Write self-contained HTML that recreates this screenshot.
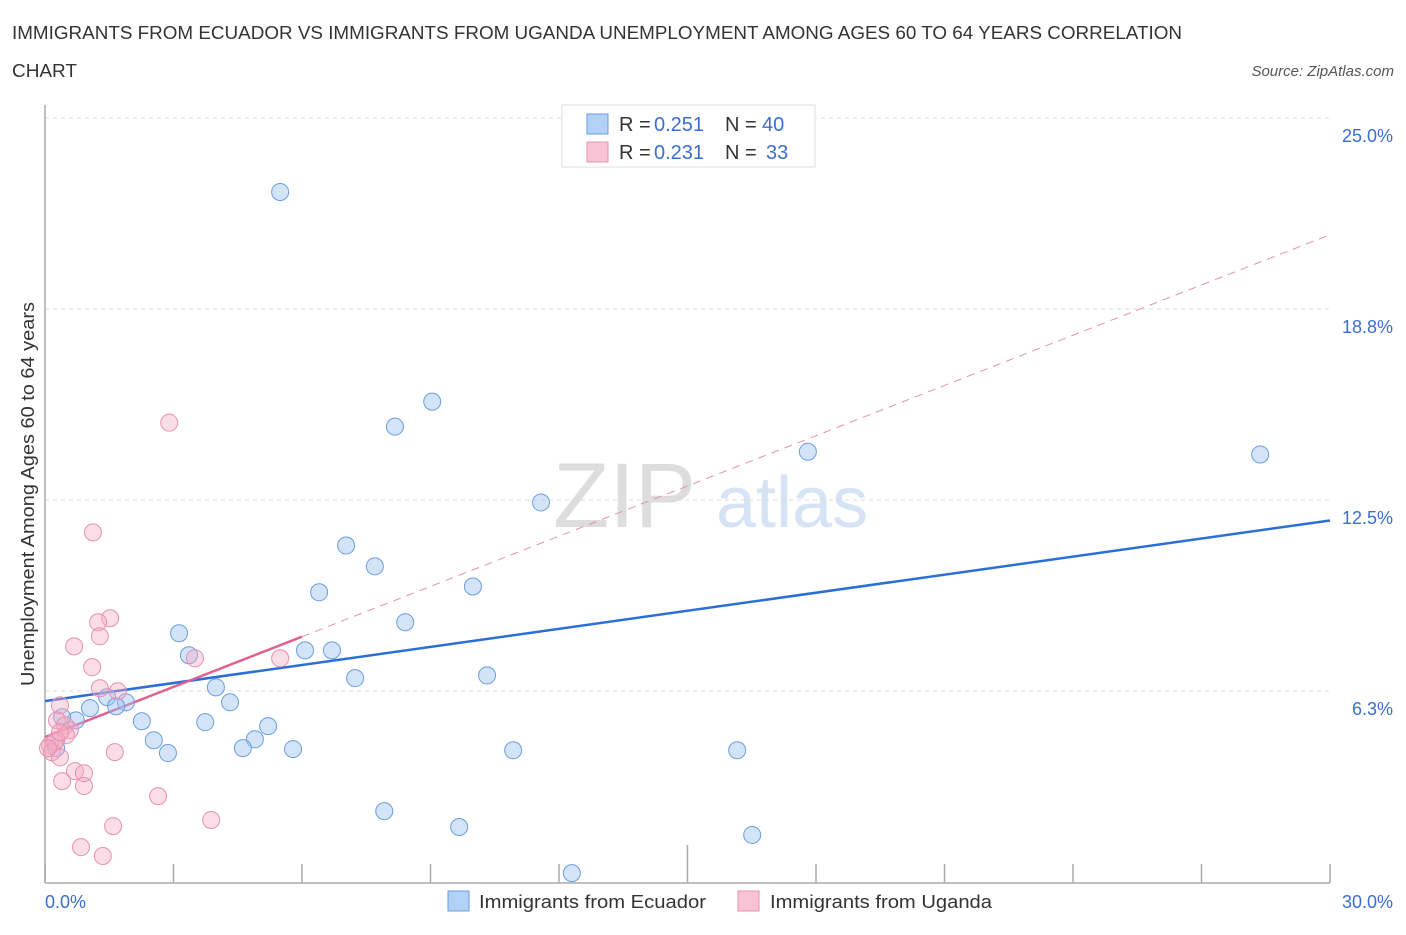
<!DOCTYPE html>
<html><head><meta charset="utf-8"><style>
body{margin:0;background:#fff;font-family:"Liberation Sans",sans-serif;}
svg text{font-family:"Liberation Sans",sans-serif;}
</style></head><body>
<svg id="chart" width="1406" height="930" xmlns="http://www.w3.org/2000/svg">
<text x="12" y="39" font-size="18" fill="#333" textLength="1170" lengthAdjust="spacingAndGlyphs">IMMIGRANTS FROM ECUADOR VS IMMIGRANTS FROM UGANDA UNEMPLOYMENT AMONG AGES 60 TO 64 YEARS CORRELATION</text>
<text x="12" y="77" font-size="18" fill="#333" textLength="65" lengthAdjust="spacingAndGlyphs">CHART</text>
<text x="1394" y="76" font-size="15" fill="#555" text-anchor="end" font-style="italic">Source: ZipAtlas.com</text>
<text x="553" y="527" font-size="92" fill="#ddd" font-family="Liberation Serif">ZIP</text>
<text x="716" y="527" font-size="72" fill="#d5e3f5">atlas</text>
<g id="grid"></g>
<g id="axes"></g>
<g id="lines"></g>
<g id="pts"></g>
<text transform="translate(34,494) rotate(-90)" font-size="18" fill="#333" text-anchor="middle" textLength="384" lengthAdjust="spacingAndGlyphs">Unemployment Among Ages 60 to 64 years</text>
<text x="45" y="908" font-size="18" fill="#3a6fd0">0.0%</text>
<text x="1393" y="908" font-size="18" fill="#3a6fd0" text-anchor="end">30.0%</text>
<g>
<rect x="562" y="105" width="253" height="62" fill="#fff" stroke="#ddd"/>
<rect x="587" y="114" width="21" height="20" fill="#b3d0f5" stroke="#6a9de0"/>
<rect x="587" y="142" width="21" height="20" fill="#f8c3d4" stroke="#e890b0"/>
<text x="619" y="131" font-size="20" fill="#333">R = </text>
<text x="654" y="131" font-size="20" fill="#3a6fd0">0.251</text>
<text x="725" y="131" font-size="20" fill="#333">N = </text>
<text x="762" y="131" font-size="20" fill="#3a6fd0">40</text>
<text x="619" y="159" font-size="20" fill="#333">R = </text>
<text x="654" y="159" font-size="20" fill="#3a6fd0">0.231</text>
<text x="725" y="159" font-size="20" fill="#333">N = </text>
<text x="766" y="159" font-size="20" fill="#3a6fd0">33</text>
</g>
<g>
<rect x="448" y="891" width="21" height="20" fill="#b3d0f5" stroke="#6a9de0"/>
<text x="479" y="908" font-size="18" fill="#333" textLength="227" lengthAdjust="spacingAndGlyphs">Immigrants from Ecuador</text>
<rect x="738" y="891" width="21" height="20" fill="#f8c3d4" stroke="#e890b0"/>
<text x="770" y="908" font-size="18" fill="#333" textLength="222" lengthAdjust="spacingAndGlyphs">Immigrants from Uganda</text>
</g>
</svg>
<script>
const yTicks=[6.25,12.5,18.75,25];
const yTickLabels=["6.3%","12.5%","18.8%","25.0%"];
const xTicks=[0,3,6,9,12,15,18,21,24,27,30];
const ecuadorX=[5.49,9.04,8.17,17.81,28.37,11.58,7.03,7.70,9.99,6.40,8.41,3.13,6.07,6.70,3.36,7.24,10.32,3.99,4.32,1.45,1.89,1.05,1.66,0.72,0.40,2.26,3.74,5.21,2.54,4.90,4.62,2.87,5.79,10.93,16.16,0.26,7.92,9.67,16.51,12.30];
const ecuadorY=[22.58,15.72,14.90,14.08,13.99,12.42,11.01,10.33,9.67,9.48,8.50,8.14,7.58,7.58,7.42,6.67,6.76,6.37,5.88,6.05,5.88,5.69,5.75,5.29,5.39,5.26,5.23,5.10,4.64,4.67,4.38,4.22,4.35,4.31,4.31,4.38,2.32,1.80,1.54,0.29];
const ugandaX=[2.90,1.12,1.52,1.24,1.28,0.68,3.50,5.49,1.10,1.28,1.70,0.35,0.28,0.47,0.58,0.49,0.26,0.12,0.16,0.35,0.23,1.63,0.70,0.91,0.40,0.91,2.64,3.88,1.59,0.84,1.35,0.35,0.07];
const ugandaY=[15.03,11.44,8.63,8.50,8.04,7.71,7.32,7.32,7.03,6.34,6.24,5.78,5.29,5.13,4.97,4.80,4.64,4.48,4.25,4.08,4.58,4.25,3.63,3.56,3.30,3.14,2.81,2.03,1.83,1.14,0.85,4.90,4.38];
const ecuadorTrend=[5.92,11.83];
const ugandaTrend=[4.74,21.18];
const ugandaSolidEnd=6.0;
const NS="http://www.w3.org/2000/svg";
function xs(v){return 45+v*(1285/30);}
function ys(v){return 882-v*(764/25);}
function mk(tag,attrs,parent){const e=document.createElementNS(NS,tag);for(const k in attrs)e.setAttribute(k,attrs[k]);document.getElementById(parent).appendChild(e);return e;}
yTicks.forEach((t,i)=>{
 const g=mk('line',{x1:45,x2:1330,y1:ys(t),y2:ys(t),stroke:'#ddd','stroke-dasharray':'4,4'},'grid');
 
 
 const l=mk('text',{x:1393,y:ys(t)+24,'font-size':18,fill:'#3a6fd0','text-anchor':'end'},'grid');
 l.textContent=yTickLabels[i];
 
 
});
const ax=mk('line',{x1:45,x2:1330,y1:883,y2:883,stroke:'#aaa','stroke-width':1.5},'axes');


const ay=mk('line',{x1:45,x2:45,y1:105,y2:883,stroke:'#aaa','stroke-width':1.5},'axes');


xTicks.forEach(t=>{
 const k=mk('line',{x1:xs(t),x2:xs(t),y1:(t===15?845:864),y2:883,stroke:'#aaa','stroke-width':1.5},'axes');
 
 
});
const d=mk('line',{x1:xs(ugandaSolidEnd),y1:ys(ugandaTrend[0]+(ugandaTrend[1]-ugandaTrend[0])*ugandaSolidEnd/30),x2:xs(30),y2:ys(ugandaTrend[1]),stroke:'#e890b0','stroke-width':1,'stroke-dasharray':'8,6'},'lines');


function drawPts(X,Y,fill,stroke,name){
 X.forEach((x,i)=>{
  const c=mk('circle',{cx:xs(x),cy:ys(Y[i]),r:8.5,fill:fill,stroke:stroke,'stroke-width':1},'pts');
  
  
 });
}
drawPts(ecuadorX,ecuadorY,'rgba(160,196,240,0.45)','#6a9de0','ecuador-point');
drawPts(ugandaX,ugandaY,'rgba(245,170,195,0.4)','#e890b0','uganda-point');
const b=mk('line',{x1:xs(0),y1:ys(ecuadorTrend[0]),x2:xs(30),y2:ys(ecuadorTrend[1]),stroke:'#2a6fd6','stroke-width':2.5},'lines');


const p=mk('line',{x1:xs(0),y1:ys(ugandaTrend[0]),x2:xs(ugandaSolidEnd),y2:ys(ugandaTrend[0]+(ugandaTrend[1]-ugandaTrend[0])*ugandaSolidEnd/30),stroke:'#e0608e','stroke-width':2.5},'lines');


</script>
</body></html>
